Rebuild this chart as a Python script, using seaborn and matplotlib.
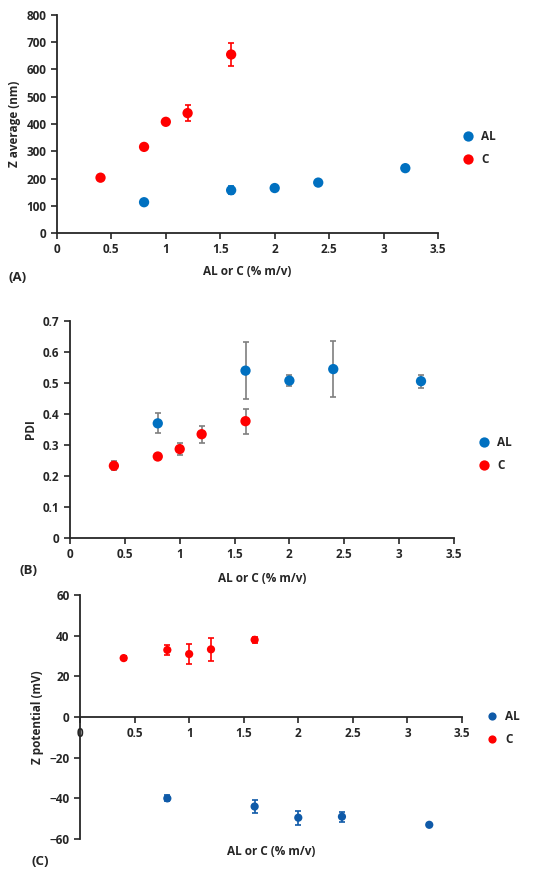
import matplotlib.pyplot as plt
import seaborn as sns
import pandas as pd

conc_al = [0.8, 1.6, 2.0, 2.4, 3.2]
conc_c = [0.4, 0.8, 1.0, 1.2, 1.6]

# (A) z average
zavg_al = [113, 157, 165, 185, 238]
zavg_al_err = [4, 15, 5, 10, 5]
zavg_c = [203, 316, 408, 440, 655]
zavg_c_err = [4, 5, 8, 30, 42]

# (B) PDI
pdi_al = [0.370, 0.540, 0.508, 0.545, 0.506]
pdi_al_err = [0.032, 0.092, 0.017, 0.091, 0.021]
pdi_c = [0.233, 0.263, 0.287, 0.335, 0.377]
pdi_c_err = [0.015, 0.005, 0.018, 0.028, 0.040]

# (C) zeta potential
zp_al = [-40, -44, -49.5, -49, -53]
zp_al_err = [1.5, 3, 3.5, 2.5, 0.8]
zp_c = [29, 33, 31, 33.3, 38]
zp_c_err = [1, 2.5, 5, 5.5, 1.5]

sns.set_style("ticks")
plt.rcParams['font.family'] = ['Open Sans', 'DejaVu Sans']
plt.rcParams['font.weight'] = 'bold'
plt.rcParams['axes.labelweight'] = 'bold'
plt.rcParams['font.size'] = 8.5


def make_df(al, al_err, c, c_err):
    return pd.DataFrame({
        'x': conc_al + conc_c,
        'y': al + c,
        'err': al_err + c_err,
        'grp': ['AL'] * len(al) + ['C'] * len(c),
    })


fig = plt.figure(figsize=(5.5, 8.76), dpi=100)
axA = fig.add_axes([0.1036, 0.734, 0.6927, 0.2489])
axB = fig.add_axes([0.1273, 0.3858, 0.698, 0.2477])
axC = fig.add_axes([0.1455, 0.0422, 0.6945, 0.2785])

panels = [
    (axA, make_df(zavg_al, zavg_al_err, zavg_c, zavg_c_err),
     {'AL': '#0070C0', 'C': '#FF0000'}, None, 55, 'Z average (nm)',
     (0, 800), range(0, 801, 100), 0.39),
    (axB, make_df(pdi_al, pdi_al_err, pdi_c, pdi_c_err),
     {'AL': '#0070C0', 'C': '#FF0000'}, '#7f7f7f', 55, 'PDI',
     (0, 0.7), [i / 10 for i in range(8)], 0.387),
    (axC, make_df(zp_al, zp_al_err, zp_c, zp_c_err),
     {'AL': '#0F5AA8', 'C': '#FF0000'}, None, 35, 'Z potential (mV)',
     (-60, 60), range(-60, 61, 20), 0.455),
]

for ax, df, pal, ecol, size, ylab, ylim, yticks, legy in panels:
    for grp, sub in df.groupby('grp'):
        ax.errorbar(sub['x'], sub['y'], yerr=sub['err'], fmt='none',
                    ecolor=ecol if ecol else pal[grp], elinewidth=1.2,
                    capsize=2.5, capthick=1.2, zorder=2)
    sns.scatterplot(data=df, x='x', y='y', hue='grp', hue_order=['AL', 'C'],
                    palette=pal, s=size, edgecolor='none', ax=ax, zorder=3)
    ax.set_xlim(0, 3.5)
    ax.set_ylim(*ylim)
    ax.set_xticks([0, 0.5, 1, 1.5, 2, 2.5, 3, 3.5])
    ax.set_xticklabels(['0', '0.5', '1', '1.5', '2', '2.5', '3', '3.5'])
    ax.set_yticks(list(yticks))
    if ax is axB:
        ax.set_yticklabels(['0', '0.1', '0.2', '0.3', '0.4', '0.5', '0.6', '0.7'])
    ax.set_ylabel(ylab, fontsize=8.5)
    ax.set_xlabel('AL or C (% m/v)', fontsize=8.5)
    ax.spines['top'].set_visible(False)
    ax.spines['right'].set_visible(False)
    for sp in ['left', 'bottom']:
        ax.spines[sp].set_linewidth(1.3)
    ax.tick_params(width=1.2, length=4, labelsize=8.5)
    sns.move_legend(ax, 'center left', bbox_to_anchor=(1.02, legy),
                    frameon=False, title=None, fontsize=8.5,
                    handletextpad=0.1, labelspacing=0.9, markerscale=1.0)

axC.spines['bottom'].set_position(('data', 0))
axC.xaxis.set_label_coords(0.5, -0.025)
axA.xaxis.set_label_coords(0.5, -0.145)
axB.xaxis.set_label_coords(0.5, -0.155)

fig.text(0.015, 0.679, '(A)', fontsize=9.5, fontweight='bold')
fig.text(0.035, 0.345, '(B)', fontsize=9.5, fontweight='bold')
fig.text(0.058, 0.013, '(C)', fontsize=9.5, fontweight='bold')

fig.savefig('out.png', dpi=100)
